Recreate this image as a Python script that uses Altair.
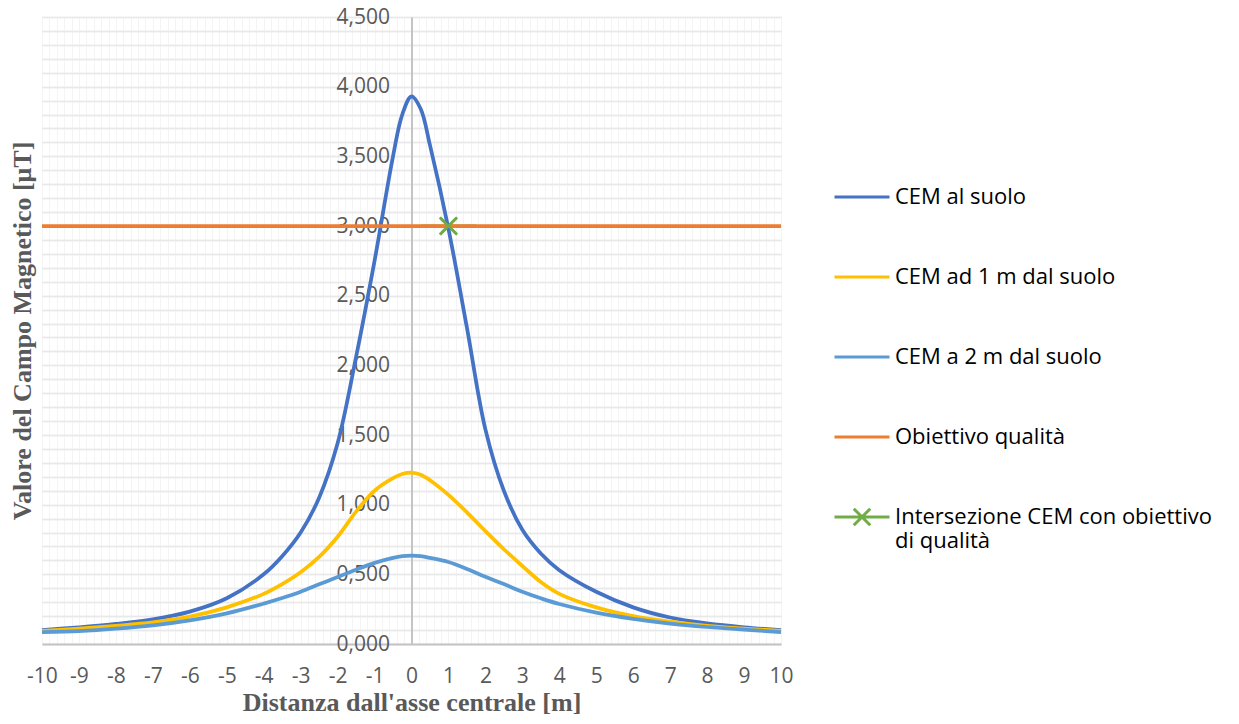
import altair as alt
import pandas as pd

# ---------------- data ----------------
x_vals = [-10, -9, -8, -7, -6, -5, -4, -3.5, -3, -2.5, -2, -1.5, -1, -0.5, -0.25, 0,
          0.25, 0.5, 1, 1.5, 2, 2.5, 3, 3.5, 4, 5, 6, 7, 8, 9, 10]
cem_suolo = [0.100, 0.120, 0.144, 0.177, 0.232, 0.328, 0.500, 0.630, 0.800, 1.050,
             1.440, 2.060, 2.750, 3.500, 3.800, 3.930, 3.840, 3.580, 2.980, 2.270,
             1.540, 1.100, 0.820, 0.650, 0.530, 0.375, 0.263, 0.190, 0.148, 0.120, 0.100]
cem_1m = [0.095, 0.110, 0.130, 0.155, 0.196, 0.263, 0.360, 0.430, 0.515, 0.625,
          0.770, 0.950, 1.100, 1.190, 1.220, 1.230, 1.215, 1.175, 1.070, 0.945,
          0.810, 0.680, 0.560, 0.445, 0.360, 0.263, 0.200, 0.160, 0.130, 0.110, 0.095]
cem_2m = [0.085, 0.093, 0.110, 0.134, 0.170, 0.220, 0.290, 0.330, 0.375, 0.428,
          0.481, 0.533, 0.582, 0.618, 0.630, 0.634, 0.630, 0.618, 0.588, 0.538,
          0.483, 0.430, 0.375, 0.328, 0.287, 0.225, 0.180, 0.146, 0.122, 0.103, 0.086]
obiettivo_x = [-10, 10]
obiettivo_y = [3.0, 3.0]
intersezione_x = [1.0]
intersezione_y = [3.0]

series_names = ["CEM al suolo", "CEM ad 1 m dal suolo", "CEM a 2 m dal suolo",
                "Obiettivo qualità", "Intersezione CEM con obiettivo di qualità"]
series_colors = ["#4472C4", "#FFC000", "#5B9BD5", "#ED7D31", "#70AD47"]

x_ticks = list(range(-10, 11))
y_label_ticks = [0, 0.5, 1.0, 1.5, 2.0, 2.5, 3.0, 3.5, 4.0, 4.5]
y_grid_ticks = [round(i * 0.1, 1) for i in range(46)]
x_grid_ticks = [round(-10 + 0.2 * i, 1) for i in range(101)]

# ---------------- tables ----------------
rows = []
for name, vals in zip(series_names[:3], [cem_suolo, cem_1m, cem_2m]):
    for xv, yv in zip(x_vals, vals):
        rows.append({"x": xv, "y": yv, "serie": name})
for xv, yv in zip(obiettivo_x, obiettivo_y):
    rows.append({"x": xv, "y": yv, "serie": series_names[3]})
df_lines = pd.DataFrame(rows)
df_point = pd.DataFrame({"x": intersezione_x, "y": intersezione_y,
                         "serie": [series_names[4]] * len(intersezione_x)})

# ---------------- layout constants ----------------
W, H = 739, 627
GREY = "#595959"
AXIS_LINE = "#c4c4c4"
TICK_FONT = "Open Sans"
TITLE_FONT = "Liberation Serif"

x_scale = alt.Scale(domain=[-10, 10], nice=False, zero=False)
y_scale = alt.Scale(domain=[0, 4.5], nice=False)

color_scale = alt.Scale(domain=series_names, range=series_colors)
line_path = "M-1,0H1"
cross_line_path = "M-1,0H1M-0.3,-0.3L0.3,0.3M-0.3,0.3L0.3,-0.3"
shape_scale = alt.Scale(domain=series_names,
                        range=[line_path, line_path, line_path, line_path, cross_line_path])

legend = alt.Legend(
    title=None, orient="none", legendX=791, legendY=151,
    padding=0, rowPadding=40, symbolSize=3025, symbolStrokeWidth=3,
    labelFont=TICK_FONT, labelFontSize=22, labelColor="#000000",
    labelOffset=4, labelLimit=600,
    labelExpr="datum.label == 'Intersezione CEM con obiettivo di qualità' ? "
              "['Intersezione CEM con obiettivo', 'di qualità'] : datum.label",
)

x_axis = alt.Axis(
    values=x_grid_ticks, grid=True, gridColor="#f4f4f4", gridWidth=1,
    ticks=False, tickSize=0, domain=True, domainColor=AXIS_LINE, domainWidth=2,
    labelExpr="abs(datum.value - round(datum.value)) < 0.001 ? toString(round(datum.value)) : ''",
    labelOverlap=False, labelFlush=False, labelFont=TICK_FONT, labelFontSize=21,
    labelColor=GREY, labelPadding=21,
    title="Distanza dall'asse centrale [m]", titleFont=TITLE_FONT, titleFontSize=26,
    titleFontWeight="bold", titleColor=GREY, titlePadding=3,
)
y_grid_axis = alt.Axis(
    orient="left", values=y_grid_ticks, grid=True, gridColor="#e9e9e9", gridWidth=1.3,
    labels=False, ticks=False, domain=False, title=None,
)
y_label_axis = alt.Axis(
    orient="left", values=y_label_ticks, grid=False, offset=-W / 2,
    ticks=False, tickSize=0, domain=True, domainColor=AXIS_LINE, domainWidth=2,
    labelExpr="replace(format(datum.value, '.3f'), '.', ',')",
    labelFont=TICK_FONT, labelFontSize=21, labelColor=GREY, labelPadding=22,
    title="Valore del Campo Magnetico [μT]", titleFont=TITLE_FONT, titleFontSize=26,
    titleFontWeight="bold", titleColor=GREY, titleX=-(W / 2) - 20, titleY=H / 2,
    titleBaseline="middle", titleAlign="center", titleAngle=-90,
)

# hidden point (provides legend symbol with X), drawn under the orange line
legend_point = alt.Chart(df_point).mark_point(filled=False, strokeWidth=3, size=3025, opacity=1).encode(
    x=alt.X("x:Q", scale=x_scale, axis=x_axis),
    y=alt.Y("y:Q", scale=y_scale, axis=y_grid_axis),
    color=alt.Color("serie:N", scale=color_scale, legend=legend),
    shape=alt.Shape("serie:N", scale=shape_scale, legend=legend),
)

lines = alt.Chart(df_lines).mark_line(strokeWidth=3.75, interpolate="catmull-rom").encode(
    x=alt.X("x:Q", scale=x_scale, axis=x_axis),
    y=alt.Y("y:Q", scale=y_scale, axis=y_grid_axis),
    color=alt.Color("serie:N", scale=color_scale, legend=legend),
)

cross = alt.Chart(df_point).mark_point(
    filled=False, strokeWidth=2.5, size=300, color=series_colors[4],
    shape="M-1,-1L1,1M-1,1L1,-1", opacity=1,
).encode(
    x=alt.X("x:Q", scale=x_scale, axis=x_axis),
    y=alt.Y("y:Q", scale=y_scale, axis=y_label_axis),
)

chart = alt.layer(legend_point, lines, cross).resolve_axis(y="independent").properties(
    width=W, height=H,
    autosize=alt.AutoSizeParams(type="none"),
    padding={"left": 34, "top": 9, "right": 445, "bottom": 72},
).configure_view(stroke=None).configure(background="white")

chart.save("out.html", embed_options={"renderer": "svg", "actions": False})
